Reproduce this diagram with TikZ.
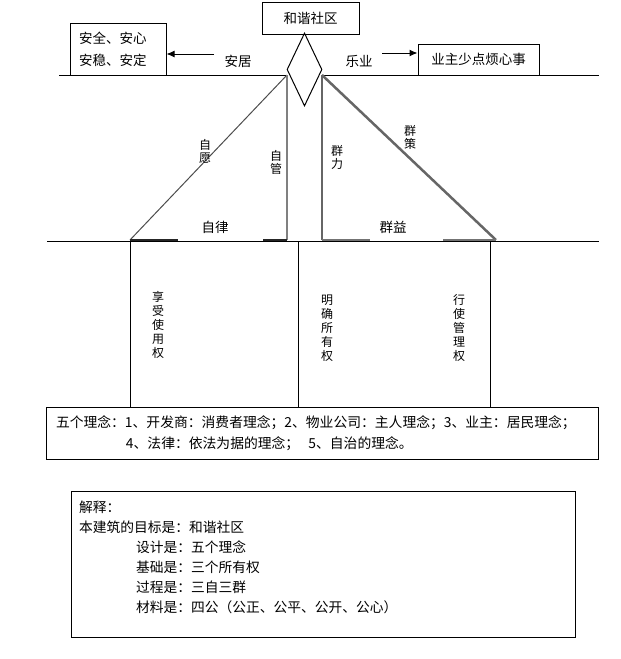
\documentclass[tikz,border=0pt]{standalone}
\usepackage{fontspec}
\setmainfont{Noto Sans CJK SC}
\usetikzlibrary{arrows.meta,shapes.geometric}
\begin{document}
\begin{tikzpicture}[x=1pt,y=-1pt,
  every node/.style={font=\fontsize{13.5}{16}\selectfont, inner sep=0pt},
  frame/.style={draw, line width=1pt},
  rule/.style={line width=1pt},
  arr/.style={line width=1pt, -{Latex[length=8pt,width=7pt]}},
  vlbl/.style={align=center, font=\fontsize{12}{13}\selectfont},
  vlong/.style={align=center, font=\fontsize{12}{14}\selectfont},
  diagL/.style={draw=black!70, line width=1pt},
  vertL/.style={draw=black!50, line width=1.5pt},
  diagR/.style={draw=black!60, line width=2.5pt},
  vertR/.style={draw=black!60, line width=1.5pt},
  baseL/.style={draw=black!85, line width=2pt},
  baseR/.style={draw=black!55, line width=1.5pt}
]
\useasboundingbox (0,0) rectangle (621,659);

% top goal box and diamond
\node[frame, minimum width=97pt, minimum height=32pt] (hexie) at (310.5,18) {和谐社区};
\node[draw, line width=1pt, diamond, minimum width=35pt, minimum height=73pt] (dia) at (304.5,69.5) {};

% side boxes
\node[frame, minimum width=96pt, minimum height=52pt, text width=78pt, align=left,
      font=\fontsize{13.5}{22}\selectfont] (anquan) at (118,49) {安全、安心\\安稳、安定};
\node[frame, minimum width=121pt, minimum height=31pt] (fanxin) at (478.5,59.5) {业主少点烦心事};

% arrows and labels
\coordinate (anjuS) at (214,54);
\coordinate (leyeS) at (382,53);
\draw[arr] (anjuS) -- (anjuS -| anquan.east);
\draw[arr] (leyeS) -- (leyeS -| fanxin.west);
\node (anju) at (238,61) {安居};
\node (leye) at (359,61) {乐业};

% roof line
\coordinate (apexL) at (287,75);
\coordinate (apexR) at (322,75);
\coordinate (roofL) at (59,75);
\coordinate (roofR) at (599,75);
\draw[rule] (roofL) -- (apexL);
\draw[rule] (apexR) -- (roofR);

% left triangle
\coordinate (cornerL) at (130,240);
\coordinate (footL) at (287,240);
\draw[diagL] (apexL) -- (cornerL);
\draw[vertL] (apexL) -- (footL);
\draw[baseL] (cornerL) -- (178,240);
\draw[baseL] (263,240) -- (footL);

% right triangle
\coordinate (footR) at (322,240);
\coordinate (cornerR) at (496,240);
\draw[vertR] (apexR) -- (footR);
\draw[diagR] (apexR) -- (cornerR);
\draw[baseR] (footR) -- (370,240);
\draw[baseR] (443,240) -- (cornerR);

% triangle labels
\node[vlbl] (ziyuan) at (205,151) {自\\愿};
\node[vlbl] (ziguan) at (276,162) {自\\管};
\node (zilv) at (215,227) {自律};
\node[vlbl] (qunli) at (337,157) {群\\力};
\node[vlbl] (qunce) at (410,137) {群\\策};
\node (qunyi) at (393,227) {群益};

% floor line and pillars
\coordinate (floorL) at (47,241.5);
\coordinate (floorR) at (599,241.5);
\draw[rule] (floorL) -- (floorR);

\node[frame, minimum width=552pt, minimum height=52pt, text width=532pt, inner xsep=10pt,
      align=left, font=\fontsize{13.8}{21}\selectfont] (linian) at (322,433)
  {五个理念：1、开发商：消费者理念；2、物业公司：主人理念；3、业主：居民理念；\\
   \hspace*{70pt}4、法律：依法为据的理念；\ \ 5、自治的理念。};

\coordinate (p1) at (130,241.5);
\coordinate (p2) at (298,241.5);
\coordinate (p3) at (490,241.5);
\draw[rule] (p1) -- (p1 |- linian.north);
\draw[rule] (p2) -- (p2 |- linian.north);
\draw[rule] (p3) -- (p3 |- linian.north);

\node[vlong] (xiangshou) at (158,325) {享\\受\\使\\用\\权};
\node[vlong] (mingque) at (327,328) {明\\确\\所\\有\\权};
\node[vlong] (xingshi) at (459,328) {行\\使\\管\\理\\权};

% explanation box
\node[frame, minimum width=504pt, minimum height=146pt] (expl) at (323,564) {};
\node[anchor=north west, align=left, font=\fontsize{13.75}{20}\selectfont] (expltxt) at (79,501)
  {解释：\\
   本建筑的目标是：和谐社区\\
   \hspace*{57pt}设计是：五个理念\\
   \hspace*{57pt}基础是：三个所有权\\
   \hspace*{57pt}过程是：三自三群\\
   \hspace*{57pt}材料是：四公（公正、公平、公开、公心）};
\end{tikzpicture}
\end{document}
